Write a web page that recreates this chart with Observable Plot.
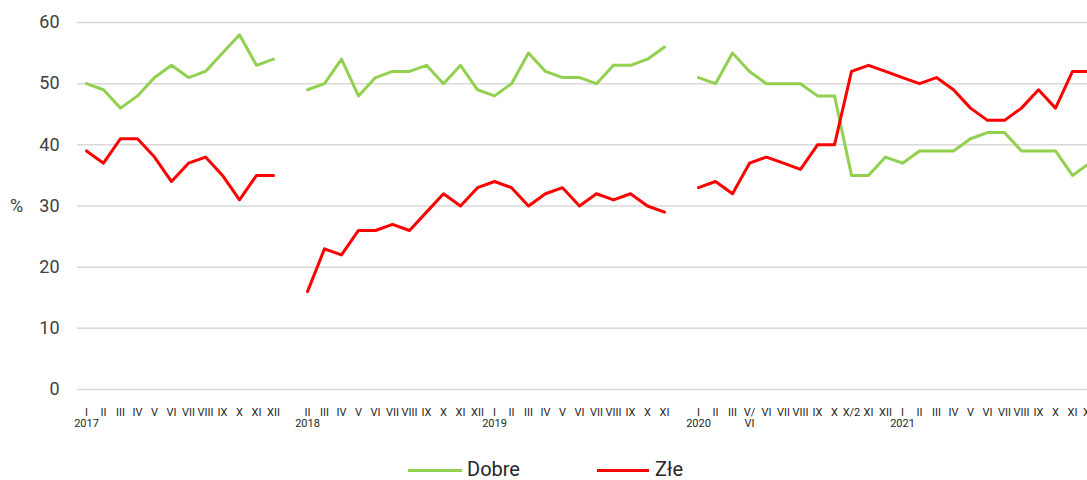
<!DOCTYPE html>
<html>
<head>
<meta charset="utf-8">
<script src="https://cdn.jsdelivr.net/npm/d3@7"></script>
<script src="https://cdn.jsdelivr.net/npm/@observablehq/plot@0.6"></script>
<style>
  body { margin: 0; background: #fff; font-family: Roboto, sans-serif; }
  #legend { position: relative; width: 1087px; height: 35px; }
  .sw { position: absolute; height: 3px; top: 24px; }
  .lt { position: absolute; top: 12px; font-size: 20px; line-height: 24px; color: #262626; }
</style>
</head>
<body>
<div id="chart"></div>
<div id="legend">
  <div class="sw" style="left:408px;width:54px;background:#92d050"></div>
  <div class="lt" style="left:467px">Dobre</div>
  <div class="sw" style="left:597px;width:52px;background:#ff0000"></div>
  <div class="lt" style="left:655px">Złe</div>
</div>
<script>
const years = ["2017", "2018", "2019", "2020", "2021"];
const months2017 = ["I","II","III","IV","V","VI","VII","VIII","IX","X","XI","XII"];
const months2018 = ["II","III","IV","V","VI","VII","VIII","IX","X","XI","XII"];
const months2019 = ["I","II","III","IV","V","VI","VII","VIII","IX","X","XI"];
const months2020 = ["I","II","III","V/\nVI","VI","VII","VIII","IX","X","X/2","XI","XII"];
const months2021 = ["I","II","III","IV","V","VI","VII","VIII","IX","X","XI","XII"];

const dobre2017 = [50,49,46,48,51,53,51,52,55,58,53,54];
const zle2017   = [39,37,41,41,38,34,37,38,35,31,35,35];
const dobre2018 = [49,50,54,48,51,52,52,53,50,53,49];
const zle2018   = [16,23,22,26,26,27,26,29,32,30,33];
const dobre2019 = [48,50,55,52,51,51,50,53,53,54,56];
const zle2019   = [34,33,30,32,33,30,32,31,32,30,29];
const dobre2020 = [51,50,55,52,50,50,50,48,48,35,35,38];
const zle2020   = [33,34,32,37,38,37,36,40,40,52,53,52];
const dobre2021 = [37,39,39,39,41,42,42,39,39,39,35,37];
const zle2021   = [51,50,51,49,46,44,44,46,49,46,52,52];

const yTicks = [0, 10, 20, 30, 40, 50, 60];

// segments in order; null = empty category (break in lines)
const segments = [
  {year: years[0], months: months2017, dobre: dobre2017, zle: zle2017},
  null,
  {year: years[1], months: months2018, dobre: dobre2018, zle: zle2018},
  {year: years[2], months: months2019, dobre: dobre2019, zle: zle2019},
  null,
  {year: years[3], months: months2020, dobre: dobre2020, zle: zle2020},
  {year: years[4], months: months2021, dobre: dobre2021, zle: zle2021}
];

const rows = [];
let gapCount = 0;
for (const s of segments) {
  if (s === null) {
    rows.push({key: "gap" + (gapCount++), label: "", dobre: null, zle: null});
    continue;
  }
  s.months.forEach((m, i) => {
    rows.push({
      key: s.year + "-" + i,
      label: i === 0 ? m + "\n" + s.year : m,
      dobre: s.dobre[i],
      zle: s.zle[i]
    });
  });
}
const labelOf = new Map(rows.map(r => [r.key, r.label]));

const chart = Plot.plot({
  width: 1087,
  height: 445,
  marginLeft: 77,
  marginRight: 0,
  marginTop: 22,
  marginBottom: 56,
  style: {fontFamily: "Roboto, sans-serif", background: "#fff"},
  x: {type: "point", domain: rows.map(r => r.key), range: [85.5, 1088.5], padding: 0},
  y: {domain: [0, 60], range: [389, 22]},
  marks: [
    Plot.gridY(yTicks, {stroke: "#d9d9d9", strokeOpacity: 1, strokeWidth: 1.5}),
    Plot.axisY(yTicks, {tickSize: 0, tickPadding: 18, fontSize: 18, fill: "#404040", label: null}),
    Plot.axisX({tickSize: 0, tickPadding: 19, fontSize: 11, fill: "#262626", label: null,
      tickFormat: k => labelOf.get(k), lineHeight: 1}),
    Plot.text(["%"], {frameAnchor: "left", dx: -61, y: [30], fontSize: 18, fill: "#404040", textAnchor: "middle"}),
    Plot.line(rows, {x: "key", y: "dobre", stroke: "#92d050", strokeWidth: 3}),
    Plot.line(rows, {x: "key", y: "zle", stroke: "#ff0000", strokeWidth: 3})
  ]
});
document.getElementById("chart").appendChild(chart);
</script>
</body>
</html>
